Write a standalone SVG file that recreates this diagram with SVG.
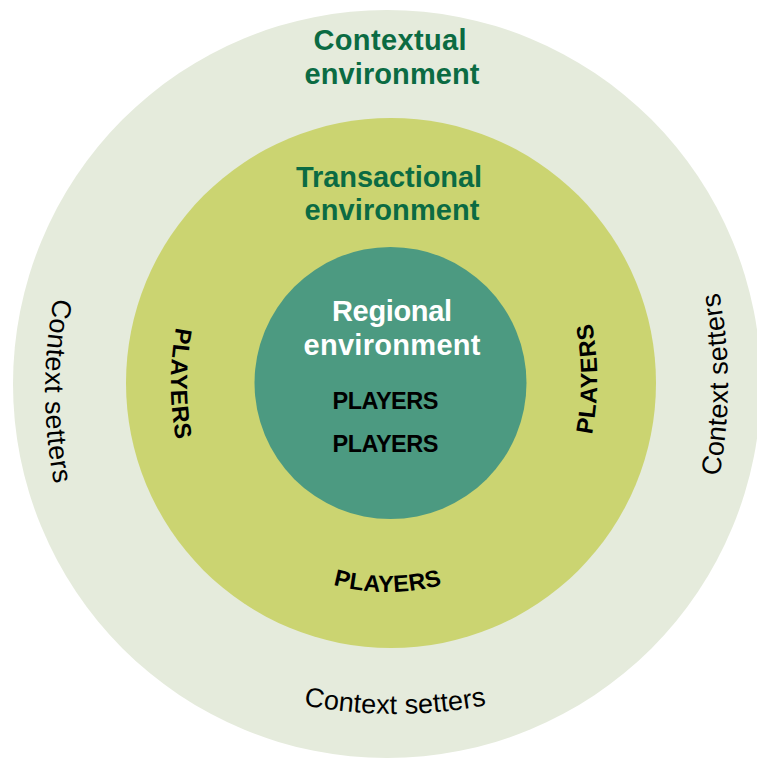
<svg xmlns="http://www.w3.org/2000/svg" xmlns:xlink="http://www.w3.org/1999/xlink" width="757" height="760" viewBox="0 0 757 760">
  <style>
    .title { font-family: "Liberation Sans", Arial, sans-serif; font-weight: bold; font-size: 29px; text-anchor: middle; }
    .green { fill: #0B6B43; }
    .white { fill: #FFFFFF; }
    .players { font-family: "Liberation Sans", Arial, sans-serif; font-weight: bold; font-size: 23.5px; fill: #000000; text-anchor: middle; }
    .setters { font-family: "Liberation Sans", Arial, sans-serif; font-weight: normal; font-size: 27px; fill: #000000; text-anchor: middle; }
  </style>
  <defs>
    <path id="arc210" d="M -150.6 -63.6 A 210 210 0 0 0 150.6 -63.6"/>
    <path id="arc300" d="M -143.8 -36.6 A 300 300 0 0 0 143.8 -36.6"/>
    <path id="arc480" d="M -164.6 -29.2 A 480 480 0 0 0 164.6 -29.2"/>
  </defs>

  <g id="contextual-environment">
    <circle cx="387" cy="384" r="374" fill="#E5EBDC"/>
    <text class="title green" x="390" y="50" textLength="153">Contextual</text>
    <text class="title green" x="392" y="84" textLength="175">environment</text>
    <g transform="translate(45,391) rotate(90)">
      <text class="setters"><textPath xlink:href="#arc480" href="#arc480" startOffset="50%" textLength="187">Context setters</textPath></text>
    </g>
    <g transform="translate(728,384.5) rotate(-90)">
      <text class="setters"><textPath xlink:href="#arc480" href="#arc480" startOffset="50%" textLength="185">Context setters</textPath></text>
    </g>
    <g transform="translate(395,714)">
      <text class="setters"><textPath xlink:href="#arc480" href="#arc480" startOffset="50%" textLength="184">Context setters</textPath></text>
    </g>
  </g>

  <g id="transactional-environment">
    <circle cx="391" cy="383" r="265" fill="#CBD471"/>
    <text class="title green" x="389" y="187" textLength="186">Transactional</text>
    <text class="title green" x="392" y="220" textLength="175">environment</text>
    <g transform="translate(171,383.5) rotate(90)">
      <text class="players"><textPath xlink:href="#arc300" href="#arc300" startOffset="50%" textLength="113">PLAYERS</textPath></text>
    </g>
    <g transform="translate(597,379) rotate(-90)">
      <text class="players"><textPath xlink:href="#arc300" href="#arc300" startOffset="50%" textLength="112">PLAYERS</textPath></text>
    </g>
    <g transform="translate(387.5,592)">
      <text class="players"><textPath xlink:href="#arc210" href="#arc210" startOffset="50%" textLength="110">PLAYERS</textPath></text>
    </g>
  </g>

  <g id="regional-environment">
    <circle cx="390.5" cy="383" r="136" fill="#4C9A81"/>
    <text class="title white" x="392" y="321" textLength="120">Regional</text>
    <text class="title white" x="392" y="355" textLength="177">environment</text>
    <text class="players" x="385.5" y="409" textLength="106">PLAYERS</text>
    <text class="players" x="385.5" y="452" textLength="106">PLAYERS</text>
  </g>

  <g id="connectors"/>
</svg>
